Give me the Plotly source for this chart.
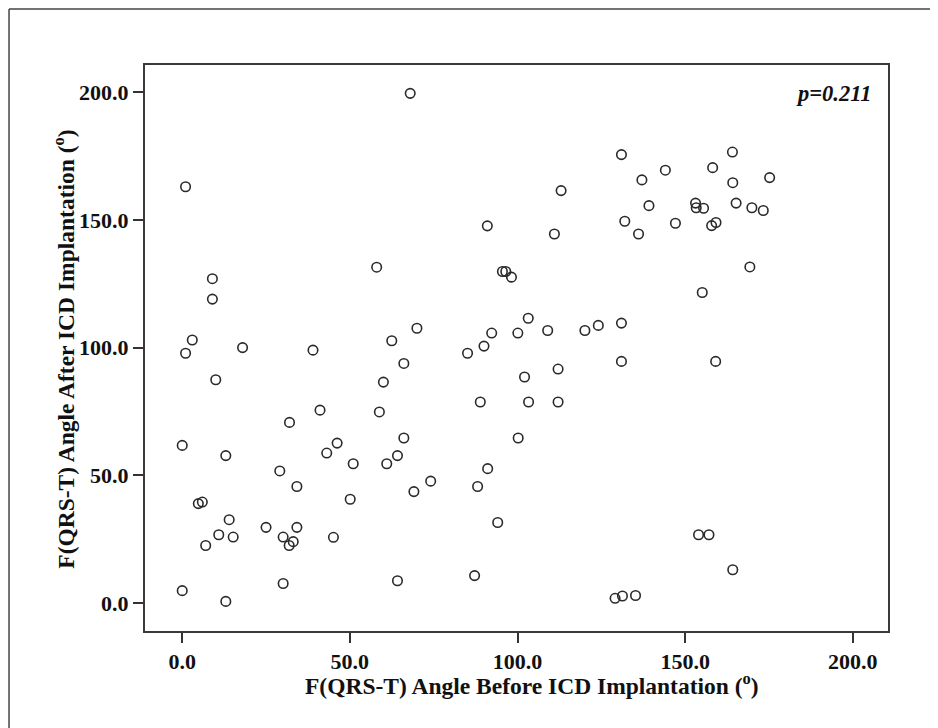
import plotly.graph_objects as go

# F(QRS-T) angle before (x) and after (y) ICD implantation, degrees
angle_before = [1, 9, 9, 58, 3, 1, 18, 39, 62.5, 68, 131, 113, 91, 111, 132,
                95.5, 96.5, 98.2, 103.2, 70, 92.3, 100.1, 109, 120.1, 124.1, 131, 90, 85.1,
                164.1, 144.1, 158.2, 137.1, 164.2, 175.2, 139.2, 153.1, 153.3, 155.5, 165.2,
                169.9, 173.3, 136.1, 147.1, 157.9, 159.2, 169.3, 155.1,
                10, 60, 41.1, 58.8, 32, 0, 13, 46.2, 43.1, 51, 61, 29.1, 34.2, 50.1,
                4.8, 6, 14, 10.9, 15.2, 7, 25, 34.2, 30.1, 33.1, 31.9, 45.1, 0, 13, 30.1,
                66.1, 102.1, 112.1, 131, 88.9, 103.3, 112.1, 66.1, 100.2, 64.2, 91.1, 88.1,
                74.1, 69.1, 94.1, 64.2, 87.2, 129.1, 131.3, 135.2, 159.1, 154, 157.1, 164.2]
angle_after = [163, 127, 119, 131.5, 103, 97.8, 100, 99, 102.7, 199.6, 175.6, 161.5, 147.7, 144.5, 149.5,
               129.8, 129.8, 127.6, 111.5, 107.6, 105.7, 105.7, 106.7, 106.7, 108.7, 109.6, 100.6, 97.8,
               176.6, 169.5, 170.5, 165.7, 164.6, 166.6, 155.6, 156.6, 154.8, 154.6, 156.6,
               154.8, 153.7, 144.5, 148.7, 147.8, 149, 131.6, 121.6,
               87.4, 86.5, 75.5, 74.8, 70.7, 61.7, 57.7, 62.6, 58.7, 54.5, 54.5, 51.7, 45.6, 40.6,
               38.9, 39.5, 32.6, 26.7, 25.8, 22.5, 29.6, 29.6, 25.8, 24, 22.5, 25.7, 4.8, 0.6, 7.6,
               93.8, 88.5, 91.6, 94.6, 78.7, 78.7, 78.7, 64.6, 64.6, 57.7, 52.6, 45.6,
               47.7, 43.6, 31.5, 8.7, 10.7, 1.8, 2.7, 2.9, 94.6, 26.7, 26.7, 13]

tick_vals = [0, 50, 100, 150, 200]
tick_text = ["0.0", "50.0", "100.0", "150.0", "200.0"]

x_title = "F(QRS-T) Angle Before ICD Implantation (<sup>o</sup>)"
y_title = "F(QRS-T) Angle After ICD Implantation (<sup>o</sup>)"
p_text = "<b><i>p=0.211</i></b>"

FONT = "Liberation Serif"

fig = go.Figure()
fig.add_trace(go.Scatter(
    x=angle_before, y=angle_after, mode="markers",
    marker=dict(symbol="circle-open", size=9.5, color="#2a2a2a",
                line=dict(width=1.6, color="#2a2a2a")),
    hoverinfo="x+y", showlegend=False,
))

axis_common = dict(
    showline=True, mirror=True, linecolor="#3a3a3a", linewidth=2,
    ticks="outside", ticklen=10, tickwidth=1.5, tickcolor="#333",
    showgrid=False, zeroline=False,
    tickvals=tick_vals, ticktext=tick_text,
    tickfont=dict(family=FONT, size=22, color="#111", weight="bold"),
)

fig.update_layout(
    width=938, height=728,
    margin=dict(l=137, r=58, t=57, b=104.5),
    paper_bgcolor="white", plot_bgcolor="white",
    xaxis=dict(range=[-11.1, 210.5], **axis_common),
    yaxis=dict(range=[-11.0, 210.7], **axis_common),
    font=dict(family=FONT, color="#111"),
    annotations=[
        dict(text="<b>" + x_title + "</b>", xref="paper", yref="paper",
             x=0.521, y=-0.0944, xanchor="center", yanchor="middle",
             showarrow=False, font=dict(family=FONT, size=23.5, color="#111")),
        dict(text="<b>" + y_title + "</b>", xref="paper", yref="paper",
             x=-0.109, y=0.497, xanchor="center", yanchor="middle", textangle=-90,
             showarrow=False, font=dict(family=FONT, size=23.5, color="#111")),
        dict(text=p_text, xref="paper", yref="paper",
             x=0.98, y=0.95, xanchor="right", yanchor="middle",
             showarrow=False, font=dict(family=FONT, size=22.5, color="#111")),
    ],
    shapes=[
        dict(type="line", xref="paper", yref="paper", x0=-0.183, x1=-0.183, y0=-0.3, y1=1.099,
             line=dict(color="#444", width=1.5)),
        dict(type="line", xref="paper", yref="paper", x0=-0.183, x1=1.2, y0=1.099, y1=1.099,
             line=dict(color="#444", width=1.5)),
    ],
)

fig.write_html("out.html")
